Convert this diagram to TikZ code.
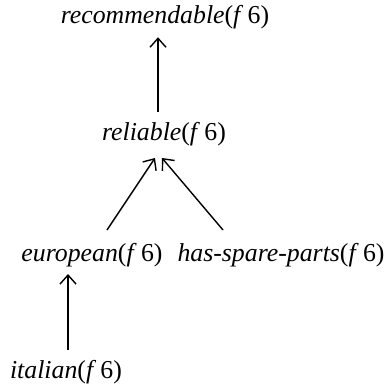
\documentclass[tikz,border=0pt]{standalone}
\usepackage{fontspec}
\setmainfont{Liberation Serif}
\usetikzlibrary{arrows.meta}
\begin{document}
\begin{tikzpicture}[x=0.5pt,y=-0.5pt,
  lbl/.style={inner sep=0pt,font=\fontsize{12.9pt}{15pt}\selectfont},
  arr/.style={-{Straight Barb[length=4.5pt,width=8pt]},line width=0.7pt}]
\useasboundingbox (0,0) rectangle (389,384);
\node[lbl] (rec) at (165,17) {\textit{recommendable}(\textit{f}\,6)};
\node[lbl] (rel) at (164,134) {\textit{reliable}(\textit{f}\,6)};
\node[lbl] (eur) at (92,255) {\textit{european}(\textit{f}\,6)};
\node[lbl] (hsp) at (281,255) {\textit{has-spare-parts}(\textit{f}\,6)};
\node[lbl] (ita) at (66,372) {\textit{italian}(\textit{f}\,6)};
\coordinate (reltop) at ([xshift=-3pt]rel.north |- 0,112);
\coordinate (recbot) at (reltop |- rec.south);
\draw[arr] (reltop) -- ([yshift=-4pt]recbot);
\coordinate (eurtail) at ([xshift=7.5pt]eur.north |- 0,230);
\coordinate (reltipl) at ([xshift=-4.5pt]rel.south |- 0,158);
\coordinate (hsptail) at ([xshift=-29pt]hsp.north |- 0,230);
\coordinate (reltipr) at ([xshift=-1pt]rel.south |- 0,158);
\draw[arr] (eurtail) -- (reltipl);
\draw[arr] (hsptail) -- (reltipr);
\coordinate (itatail) at ([xshift=1pt]ita.north |- 0,350);
\coordinate (eurtip) at ([xshift=-12pt]eur.south |- 0,274);
\draw[arr] (itatail) -- (eurtip);
\end{tikzpicture}
\end{document}
